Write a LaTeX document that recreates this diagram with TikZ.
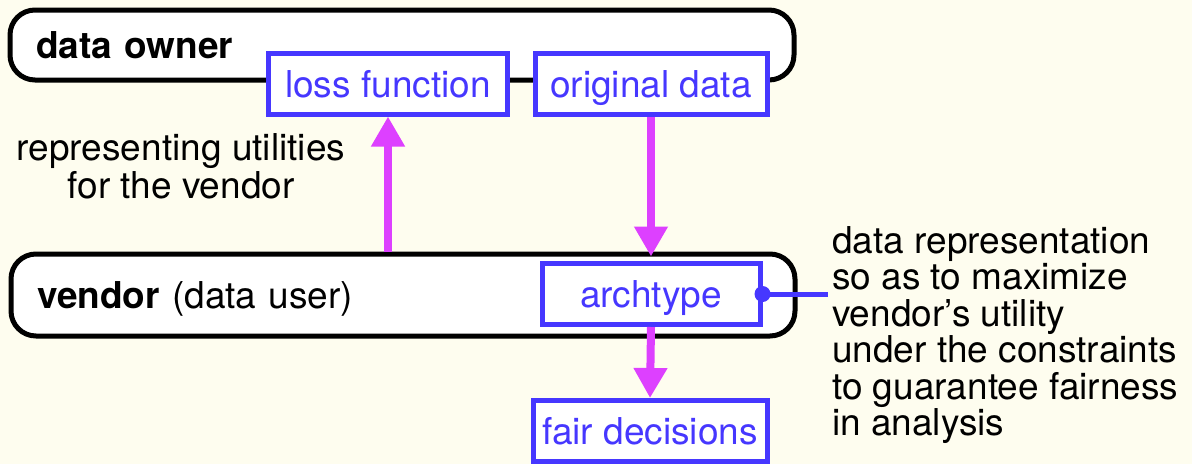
\documentclass[tikz,border=0pt]{standalone}
\usepackage{fontspec}
\setmainfont{TeX Gyre Heros}
\usetikzlibrary{arrows.meta}

\begin{document}
\begin{tikzpicture}[x=1pt, y=-1pt,
    every node/.style={font=\fontsize{37}{38}\selectfont},
    party/.style={draw=black, line width=5pt, rounded corners=25pt, fill=white,
        minimum width=784pt, text width=732pt, align=left, inner xsep=26pt,
        text height=27pt, text depth=0pt},
    item/.style={draw=itemblue, line width=5pt, fill=white, text=itemblue,
        inner xsep=0pt, inner ysep=0pt, text height=44pt, text depth=17pt},
    flow/.style={draw=flowpink, line width=8pt, -{Triangle[width=32pt, length=30pt]}}
]
    % Define colors
    \definecolor{bgcream}{RGB}{254,253,239}  % Cream
    \definecolor{itemblue}{RGB}{70,55,255}   % Blue
    \definecolor{flowpink}{RGB}{221,64,255}  % Magenta

    % Background
    \fill[bgcream] (0,0) rectangle (1192,464);
    \useasboundingbox (0,0) rectangle (1192,464);

    % Parties
    \node[party, minimum height=70pt] (owner) at (402,45) {\bfseries data owner};
    \node[party, minimum height=82pt] (vendor) at (403,295) {{\bfseries vendor} (data user)};

    % Data items
    \node[item, minimum width=239pt] (loss) at (388,83.5) {loss function};
    \node[item, minimum width=232pt] (original) at (651,83.5) {original data};
    \node[item, minimum width=218pt] (archtype) at (651,294) {archtype};
    \node[item, minimum width=234pt] (fair) at (650,431) {fair decisions};

    % Flows
    \draw[flow] (vendor.north -| loss) -- (loss.south);
    \draw[flow, shorten >=-5pt] (original.south) -- (original.south |- vendor.north);
    \draw[flow] (archtype.south) -- (fair.north);

    % Annotations
    \node[align=center, anchor=north, inner sep=0pt] (utility) at (181,133)
        {representing utilities\\for the vendor};
    \coordinate (tie) at (828,294);
    \draw[itemblue, line width=5pt] (archtype.east) -- (tie);
    \fill[itemblue] (archtype.east) circle (8pt);
    \node[align=left, anchor=north west, inner sep=0pt,
        font=\fontsize{37}{36.5}\selectfont] (note) at (832,226)
        {data representation\\so as to maximize\\vendor’s utility\\under the constraints\\to guarantee fairness\\in analysis};
\end{tikzpicture}
\end{document}
